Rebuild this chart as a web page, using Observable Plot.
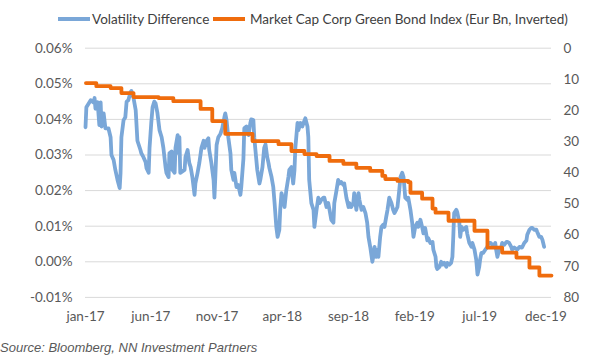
<!DOCTYPE html>
<html>
<head>
<meta charset="utf-8">
<script src="https://cdn.jsdelivr.net/npm/d3@7"></script>
<script src="https://cdn.jsdelivr.net/npm/@observablehq/plot@0.6"></script>
<style>
  body { margin: 0; background: #fff; }
  #wrap { position: relative; width: 600px; height: 358px; overflow: hidden; font-family: Lato, "Open Sans", sans-serif; }
  #legend { position: absolute; left: 0; top: 0; width: 600px; height: 36px; }
  .sw { position: absolute; top: 17px; height: 4px; width: 32px; }
  .lt { position: absolute; top: 10px; font-size: 13.5px; line-height: 18px; color: #404040; white-space: nowrap; }
  #chart { position: absolute; left: 0; top: 36px; }
  #chart svg { display: block; }
  #caption { position: absolute; left: 0px; top: 339px; font-family: "Liberation Sans", Arial, sans-serif; font-style: italic; font-size: 13px; line-height: 17px; color: #595959; white-space: nowrap; }
</style>
</head>
<body>
<div id="wrap">
  <div id="legend">
    <div class="sw" style="left:58px;background:#7aa7d8"></div>
    <div class="lt" style="left:92px">Volatility Difference</div>
    <div class="sw" style="left:213px;background:#ef6c0d"></div>
    <div class="lt" style="left:250px">Market Cap Corp Green Bond Index (Eur Bn, Inverted)</div>
  </div>
  <div id="chart"></div>
  <div id="caption">Source: Bloomberg, NN Investment Partners</div>
</div>
<script>
// Volatility Difference (%): observation day (days since 2017-01-01) and value
const volEpoch = "2017-01-01";
const volDays = [
  0, 2, 12, 18, 21, 23, 28, 32, 35, 37, 42, 46, 53, 58, 60, 65, 69, 74, 79, 81,
  83, 88, 92, 95, 99, 104, 106, 111, 116, 120, 127, 129, 134, 139, 141, 146, 148, 152, 155, 159,
  162, 166, 171, 176, 180, 185, 187, 192, 194, 199, 201, 206, 208, 213, 215, 217, 219, 229, 231, 236,
  240, 243, 247, 252, 254, 259, 263, 268, 273, 275, 280, 284, 286, 291, 296, 298, 300, 303, 307, 312,
  316, 321, 323, 326, 330, 335, 337, 342, 344, 349, 353, 358, 360, 365, 367, 372, 377, 381, 383, 388,
  390, 393, 397, 402, 404, 409, 413, 416, 420, 423, 425, 430, 434, 437, 441, 444, 448, 450, 453, 457,
  460, 464, 469, 471, 476, 480, 483, 485, 490, 492, 497, 501, 504, 508, 513, 515, 517, 522, 527, 529,
  534, 538, 541, 545, 550, 552, 557, 561, 564, 568, 573, 575, 580, 584, 587, 591, 596, 598, 603, 608,
  610, 614, 619, 621, 626, 631, 633, 638, 642, 647, 651, 654, 658, 663, 665, 668, 672, 675, 677, 681,
  684, 688, 691, 695, 698, 702, 707, 711, 714, 718, 721, 725, 728, 732, 735, 737, 739, 744, 746, 751,
  755, 758, 762, 767, 769, 774, 778, 781, 785, 790, 792, 797, 802, 804, 809, 811, 813, 818, 822, 825,
  829, 834, 836, 841, 845, 848, 850, 852, 857, 859, 864, 866, 869, 873, 880, 882, 887, 892, 894, 899,
  903, 906, 910, 912, 915, 919, 924, 929, 931, 936, 940, 942, 947, 949, 952, 956, 961, 963, 968, 973,
  975, 979, 984, 986, 991, 998, 1003, 1007, 1009, 1014, 1019, 1021, 1026, 1030, 1033, 1037, 1042, 1044, 1049, 1053,
  1056, 1060
];
const volDiff = [
  0.0378, 0.0434, 0.0454, 0.0448, 0.046, 0.043, 0.0448, 0.0384, 0.0448, 0.038, 0.0417, 0.0375, 0.0375, 0.035, 0.030, 0.0286, 0.0258, 0.023, 0.0207, 0.025,
  0.035, 0.0398, 0.0406, 0.045, 0.0454, 0.0476, 0.048, 0.046, 0.0426, 0.034, 0.0314, 0.0305, 0.0294, 0.028, 0.0263, 0.025, 0.032, 0.039, 0.0434, 0.045,
  0.0445, 0.042, 0.037, 0.035, 0.032, 0.0266, 0.025, 0.0238, 0.0305, 0.031, 0.0258, 0.025, 0.032, 0.0356, 0.0305, 0.035, 0.025, 0.0258, 0.0294, 0.0314,
  0.0277, 0.0266, 0.0238, 0.0188, 0.022, 0.025, 0.0277, 0.032, 0.034, 0.032, 0.034, 0.0347, 0.0314, 0.0277, 0.023, 0.018, 0.0238, 0.0328, 0.035, 0.036,
  0.0375, 0.0406, 0.0417, 0.0398, 0.035, 0.0305, 0.0258, 0.023, 0.025, 0.021, 0.0216, 0.0188, 0.021, 0.029, 0.0375, 0.038, 0.0356, 0.039, 0.040, 0.0398,
  0.035, 0.031, 0.0258, 0.022, 0.023, 0.0266, 0.032, 0.033, 0.0294, 0.0277, 0.0263, 0.0238, 0.021, 0.0165, 0.0098, 0.007, 0.009, 0.0146, 0.0193, 0.0174,
  0.0154, 0.020, 0.0238, 0.0258, 0.0266, 0.022, 0.0258, 0.032, 0.039, 0.037, 0.039, 0.038, 0.039, 0.0403, 0.038, 0.035, 0.023, 0.0165, 0.0146, 0.0098,
  0.0146, 0.018, 0.0165, 0.0174, 0.018, 0.018, 0.0154, 0.0165, 0.0146, 0.0118, 0.011, 0.0165, 0.020, 0.023, 0.022, 0.0224, 0.0216, 0.022, 0.018, 0.0154,
  0.0165, 0.0154, 0.0165, 0.0193, 0.0146, 0.0193, 0.0174, 0.0146, 0.0154, 0.0137, 0.011, 0.007, 0.0042, 0.0, 0.0014, 0.0042, 0.0014, 0.0034, 0.0014, 0.007,
  0.0098, 0.0104, 0.0098, 0.0126, 0.0146, 0.018, 0.0165, 0.0146, 0.0137, 0.0146, 0.0154, 0.020, 0.0238, 0.025, 0.0238, 0.021, 0.018, 0.0174, 0.018, 0.0146,
  0.011, 0.007, 0.0098, 0.011, 0.0098, 0.0118, 0.0098, 0.008, 0.0095, 0.006, 0.0067, 0.0053, 0.0056, 0.0034, 0.0014, -0.0014, -0.002, -0.0014, 0.0, -0.0008,
  -0.0003, -0.0014, -0.0003, -0.0008, -0.0003, 0.0014, 0.007, 0.0137, 0.0146, 0.014, 0.011, 0.007, 0.0098, 0.009, 0.0098, 0.008, 0.0053, 0.0042, 0.0053, 0.0034,
  0.0006, -0.0036, -0.0014, 0.0006, 0.0025, 0.0025, 0.0034, 0.0042, 0.0053, 0.0053, 0.0048, 0.0042, 0.0053, 0.0034, 0.0014, 0.0034, 0.0042, 0.0053, 0.0048, 0.0056,
  0.0056, 0.0053, 0.0042, 0.0034, 0.004, 0.0034, 0.0042, 0.004, 0.004, 0.0053, 0.006, 0.0076, 0.009, 0.0095, 0.0095, 0.009, 0.009, 0.0084, 0.007, 0.007,
  0.0062, 0.0042
];

// Market Cap Corp Green Bond Index (Eur Bn), step changes
const capDates = [
  "2017-01-02", "2017-01-26", "2017-02-28", "2017-03-25", "2017-04-22", "2017-06-19",
  "2017-07-23", "2017-09-24", "2017-10-21", "2017-11-20", "2018-01-22", "2018-03-23",
  "2018-04-22", "2018-05-22", "2018-06-19", "2018-07-19", "2018-08-20", "2018-09-19",
  "2018-10-21", "2018-11-18", "2018-11-25", "2018-12-23", "2019-01-17", "2019-01-22",
  "2019-02-18", "2019-03-14", "2019-03-21", "2019-04-20", "2019-06-19", "2019-07-19",
  "2019-08-22", "2019-09-24", "2019-10-24", "2019-11-16", "2019-12-14"
];
const capValues = [
  11.2, 12.2, 12.8, 14.4, 15.7, 16.0,
  17.0, 19.5, 23.4, 27.5, 29.8, 30.8,
  33.0, 34.0, 34.6, 36.2, 37.1, 38.4,
  39.4, 41.0, 42.0, 42.6, 43.0, 46.4,
  48.3, 51.5, 52.8, 55.4, 58.6, 64.0,
  65.6, 67.2, 70.4, 73.0, 73.0
];

const xTickDates = ["2017-01-01", "2017-06-01", "2017-11-01", "2018-04-01", "2018-09-01", "2019-02-01", "2019-07-01", "2019-12-01"];
const xTickLabels = ["jan-17", "jun-17", "nov-17", "apr-18", "sep-18", "feb-19", "jul-19", "dec-19"];
const leftTicks = [-0.01, 0, 0.01, 0.02, 0.03, 0.04, 0.05, 0.06];
const rightTicks = [0, 10, 20, 30, 40, 50, 60, 70, 80];

const vol = volDiff.map((v, i) => ({date: d3.utcDay.offset(new Date(volEpoch), volDays[i]), v}));
const right = d3.scaleLinear().domain([0, 80]).range([0.06, -0.01]);
const cap = capDates.map((d, i) => ({date: new Date(d), v: capValues[i]}));
const xLabel = new Map(xTickDates.map((d, i) => [+new Date(d), xTickLabels[i]]));

const chart = Plot.plot({
  width: 600,
  height: 296,
  marginLeft: 85,
  marginRight: 49,
  marginTop: 11.7,
  marginBottom: 35.1,
  style: {fontFamily: "Lato, 'Open Sans', sans-serif", fontSize: "13.5px", color: "#595959", background: "#fff"},
  x: {type: "utc", domain: [new Date("2017-01-01"), new Date("2019-12-14")], axis: null},
  y: {domain: [-0.01, 0.06], axis: null},
  marks: [
    Plot.gridY(leftTicks, {stroke: "#d9d9d9", strokeOpacity: 1, strokeWidth: 1}),
    Plot.axisY(leftTicks, {anchor: "left", label: null, tickSize: 0, tickPadding: 13, tickFormat: d => d.toFixed(2) + "%"}),
    Plot.axisY(rightTicks.map(r => right(r)), {anchor: "right", label: null, tickSize: 0, tickPadding: 12, tickFormat: d => String(Math.round(right.invert(d)))}),
    Plot.axisX(xTickDates.map(d => new Date(d)), {anchor: "bottom", label: null, tickSize: 0, tickPadding: 14, tickFormat: d => xLabel.get(+d)}),
    Plot.line(vol, {x: "date", y: "v", stroke: "#7aa7d8", strokeWidth: 3.8, strokeLinejoin: "round"}),
    Plot.line(cap, {x: "date", y: d => right(d.v), stroke: "#ef6c0d", strokeWidth: 3.8, curve: "step-after", strokeLinejoin: "round"})
  ]
});
document.getElementById("chart").appendChild(chart);
</script>
</body>
</html>
